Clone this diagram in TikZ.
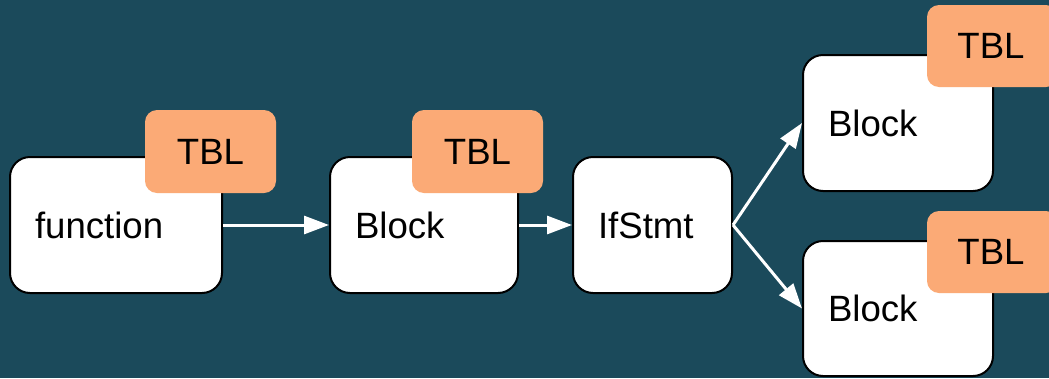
\documentclass[tikz,border=0pt]{standalone}
\usepackage{fontspec}
\setmainfont{Liberation Sans}
\usetikzlibrary{arrows.meta}
\definecolor{bgcol}{HTML}{1B4A5B}
\definecolor{tblcol}{HTML}{FBAA76}
\begin{document}
\begin{tikzpicture}[x=1pt,y=1pt,
  box/.style={draw=black, line width=2pt, fill=white, rounded corners=20pt,
    minimum height=136pt, inner xsep=25pt, inner ysep=0pt, align=left,
    font=\fontsize{36.6}{43}\selectfont},
  tbl/.style={fill=tblcol, rounded corners=12pt, minimum width=131pt,
    minimum height=83pt, inner sep=0pt, font=\fontsize{36.6}{43}\selectfont},
  conn/.style={draw=white, line width=3pt, -{Triangle[length=25pt,width=18pt]}}]
\clip (0,0) rectangle (1049,-378);
\fill[bgcol] (0,0) rectangle (1049,-378);
\node[box, text width=162pt] (fn) at (116,-225) {function};
\node[tbl] (t1) at (210.5,-151.5) {TBL};
\node[box, text width=138pt] (b1) at (424,-225) {Block};
\node[tbl] (t2) at (477.5,-151.5) {TBL};
\node[box, text width=109pt] (if) at (652.5,-225) {IfStmt};
\node[box, text width=140pt] (bt) at (898,-123) {Block};
\node[tbl, minimum height=82pt] (t3) at (992.5,-46) {\hspace*{-3pt}TBL};
\node[box, text width=140pt, minimum height=135pt] (bb) at (898,-308.5) {Block};
\node[tbl, minimum height=82pt] (t4) at (992.5,-252) {\hspace*{-3pt}TBL};
\draw[conn] (fn.east) -- (b1.west);
\draw[conn] (b1.east) -- (if.west);
\draw[conn] (if.east) -- (bt.west);
\draw[conn] (if.east) -- (bb.west);
\end{tikzpicture}
\end{document}
